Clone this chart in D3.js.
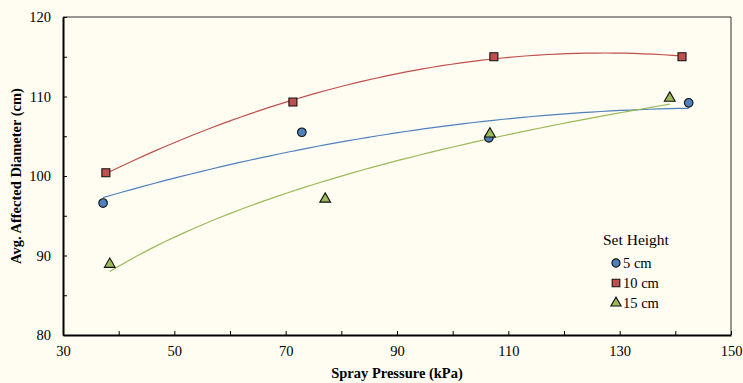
<!DOCTYPE html>
<html lang="en">
<head>
    <meta charset="UTF-8">
    <title>Spray Pressure vs Affected Diameter</title>
    <script src="https://cdnjs.cloudflare.com/ajax/libs/d3/7.8.5/d3.min.js"></script>
    <style>
        body { margin: 0; background: #fffcf2; }
        text { font-family: "Liberation Serif", "Times New Roman", serif; fill: #000; }
    </style>
</head>
<body>
    <script>
        // data
        var heights = ["5 cm", "10 cm", "15 cm"];
        var pressure5 = [37.2, 72.9, 106.5, 142.4];
        var diameter5 = [96.6, 105.5, 104.8, 109.2];
        var pressure10 = [37.7, 71.3, 107.4, 141.2];
        var diameter10 = [100.4, 109.3, 115.0, 115.0];
        var pressure15 = [38.4, 77.1, 106.7, 139.0];
        var diameter15 = [88.9, 97.1, 105.3, 109.8];
        var trendTypes = ["poly", "poly", "log"];
        var xTicks = [30, 50, 70, 90, 110, 130, 150];
        var yTicks = [80, 90, 100, 110, 120];

        var colors = ["#4f81bd", "#c0504d", "#9bbb59"];
        var symbols = [d3.symbolCircle, d3.symbolSquare, d3.symbolTriangle];
        var symSizes = [58, 64, 50];

        var series = [
            {name: heights[0], x: pressure5, y: diameter5, trend: trendTypes[0]},
            {name: heights[1], x: pressure10, y: diameter10, trend: trendTypes[1]},
            {name: heights[2], x: pressure15, y: diameter15, trend: trendTypes[2]}
        ];

        var W = 743, H = 383;
        var svg = d3.select("body").append("svg")
            .attr("width", W)
            .attr("height", H);

        var x = d3.scaleLinear().domain([30, 150]).range([63, 731]);
        var y = d3.scaleLinear().domain([80, 120]).range([335, 17]);

        // plot frame (top/right thin grey)
        svg.append("line").attr("x1", 63).attr("x2", 731).attr("y1", 17).attr("y2", 17)
            .attr("stroke", "#333").attr("stroke-width", 1);
        svg.append("line").attr("x1", 731).attr("x2", 731).attr("y1", 17).attr("y2", 335)
            .attr("stroke", "#333").attr("stroke-width", 1);

        // quadratic least-squares trendline, as the spreadsheet does it
        function quadFit(xs, ys) {
            var n = xs.length, s = [0, 0, 0, 0, 0], t = [0, 0, 0];
            for (var i = 0; i < n; i++) {
                var p = 1;
                for (var k = 0; k < 5; k++) { s[k] += p; if (k < 3) t[k] += p * ys[i]; p *= xs[i]; }
            }
            var A = [[s[0], s[1], s[2], t[0]], [s[1], s[2], s[3], t[1]], [s[2], s[3], s[4], t[2]]];
            for (var c = 0; c < 3; c++) {
                for (var r = c + 1; r < 3; r++) {
                    var f = A[r][c] / A[c][c];
                    for (var j = c; j < 4; j++) A[r][j] -= f * A[c][j];
                }
            }
            var b = [0, 0, 0];
            for (var r2 = 2; r2 >= 0; r2--) {
                var v = A[r2][3];
                for (var j2 = r2 + 1; j2 < 3; j2++) v -= A[r2][j2] * b[j2];
                b[r2] = v / A[r2][r2];
            }
            return function(v) { return b[0] + b[1] * v + b[2] * v * v; };
        }

        // logarithmic trendline y = a + b ln x
        function logFit(xs, ys) {
            var lx = xs.map(Math.log);
            var mx = d3.mean(lx), my = d3.mean(ys);
            var sxy = d3.sum(lx, function(v, i) { return (v - mx) * (ys[i] - my); });
            var sxx = d3.sum(lx, function(v) { return (v - mx) * (v - mx); });
            var b = sxy / sxx, a = my - b * mx;
            return function(v) { return a + b * Math.log(v); };
        }

        var line = d3.line().x(function(d) { return x(d[0]); }).y(function(d) { return y(d[1]); });

        series.forEach(function(s, i) {
            var f = s.trend === "log" ? logFit(s.x, s.y) : quadFit(s.x, s.y);
            var x0 = d3.min(s.x), x1 = d3.max(s.x);
            var pts = d3.range(0, 61).map(function(k) { var v = x0 + (x1 - x0) * k / 60; return [v, f(v)]; });
            svg.append("path").attr("d", line(pts))
                .attr("fill", "none").attr("stroke", colors[i]).attr("stroke-width", 1.2);
        });

        series.forEach(function(s, i) {
            svg.selectAll(".m" + i).data(s.x.map(function(v, k) { return [v, s.y[k]]; }))
                .enter().append("path")
                .attr("transform", function(d) { return "translate(" + x(d[0]) + "," + y(d[1]) + ")"; })
                .attr("d", d3.symbol().type(symbols[i]).size(symSizes[i]))
                .attr("fill", colors[i]).attr("stroke", "#111").attr("stroke-width", 1.1);
        });

        // axes
        var xAxis = d3.axisBottom(x).tickValues(d3.range(30, 151, 10)).tickSizeInner(-4).tickSizeOuter(0)
            .tickFormat(function(d) { return xTicks.indexOf(d) >= 0 ? d : ""; });
        var gx = svg.append("g").attr("transform", "translate(0,335)").call(xAxis);
        gx.select(".domain").attr("stroke", "#000").attr("stroke-width", 2);
        gx.selectAll(".tick line").attr("stroke", "#000");
        gx.selectAll(".tick text").attr("y", 11).attr("font-size", 14.5)
            .style("font-family", "Liberation Serif");

        var yAxis = d3.axisLeft(y).tickValues(d3.range(80, 121, 5)).tickSizeInner(-4).tickSizeOuter(0)
            .tickFormat(function(d) { return yTicks.indexOf(d) >= 0 ? d : ""; });
        var gy = svg.append("g").attr("transform", "translate(63,0)").call(yAxis);
        gy.select(".domain").attr("stroke", "#000").attr("stroke-width", 2);
        gy.selectAll(".tick line").attr("stroke", "#000");
        gy.selectAll(".tick text").attr("x", -12).attr("font-size", 14.5)
            .style("font-family", "Liberation Serif");

        // axis titles
        svg.append("text").attr("x", 397).attr("y", 378).attr("text-anchor", "middle")
            .attr("font-size", 14.5).attr("font-weight", "bold").text("Spray Pressure (kPa)");
        svg.append("text").attr("transform", "translate(21,176) rotate(-90)").attr("text-anchor", "middle")
            .attr("font-size", 14.5).attr("font-weight", "bold").text("Avg. Affected Diameter (cm)");

        // legend
        var lg = svg.append("g").attr("transform", "translate(590,0)");
        lg.append("text").attr("x", 13).attr("y", 245).attr("font-size", 15.5).text("Set Height");
        series.forEach(function(s, i) {
            var yy = 263 + i * 20;
            lg.append("path").attr("transform", "translate(" + 26 + "," + yy + ")")
                .attr("d", d3.symbol().type(symbols[i]).size(symSizes[i] * 0.9))
                .attr("fill", colors[i]).attr("stroke", "#111").attr("stroke-width", 1.1);
            lg.append("text").attr("x", 33).attr("y", yy + 4.5).attr("font-size", 14.5).text(s.name);
        });
    </script>
</body>
</html>
